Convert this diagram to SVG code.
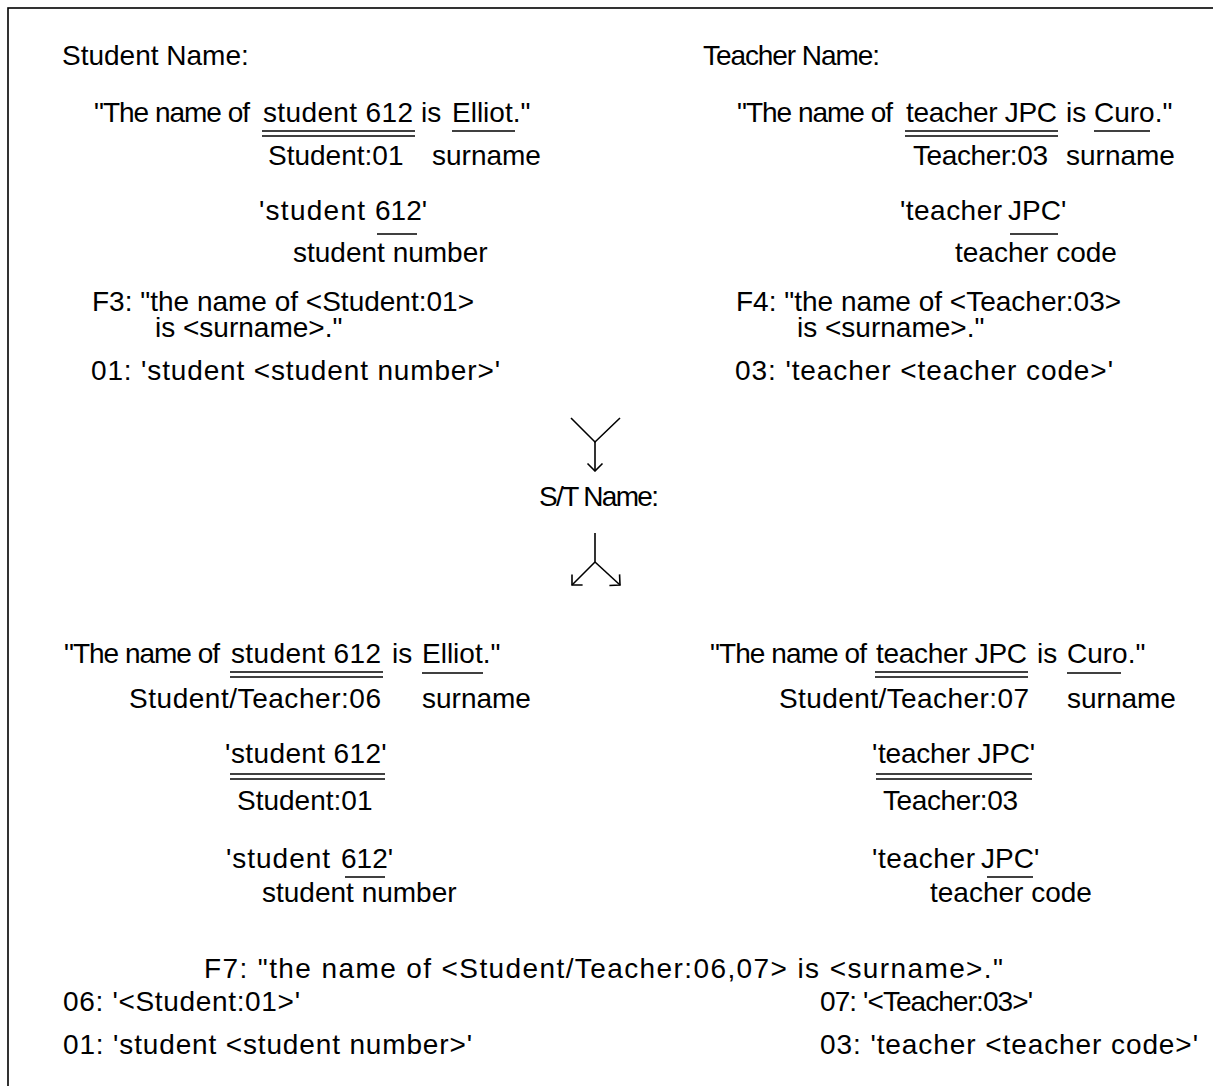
<svg xmlns="http://www.w3.org/2000/svg" width="1213" height="1086" viewBox="0 0 1213 1086">
  <style>
    text { font-family: "Liberation Sans", Arial, sans-serif; font-size: 28px; fill: #000; }
    .ul { stroke: #000; stroke-width: 1.6; fill: none; }
    .conn { stroke: #000; stroke-width: 1.6; fill: none; }
    .frame { stroke: #000; stroke-width: 1.6; fill: #fff; }
  </style>
  <defs>
    <marker id="open-head" viewBox="-9 -9 10 18" markerWidth="10" markerHeight="18" refX="0" refY="0" orient="auto" markerUnits="userSpaceOnUse">
      <path d="M-7.5,-7.5 L0,0 L-7.5,7.5" fill="none" stroke="#000" stroke-width="1.6"/>
    </marker>
  </defs>

  <rect class="frame" x="8" y="8" width="1230" height="1100"/>

  <!-- student name facts -->
  <g id="student-name">
    <text x="62" y="65">Student Name:</text>
    <text y="122"><tspan x="94" textLength="156">"The name of</tspan><tspan x="263" textLength="150">student 612</tspan><tspan x="421">is</tspan><tspan x="452">Elliot</tspan><tspan>."</tspan></text>
    <line class="ul" x1="262" y1="131" x2="415" y2="131"/>
    <line class="ul" x1="262" y1="136" x2="415" y2="136"/>
    <line class="ul" x1="452" y1="131" x2="515" y2="131"/>
    <text x="268" y="165">Student:01</text>
    <text x="432" y="165">surname</text>
    <text y="220"><tspan x="259" textLength="106">'student</tspan><tspan x="375">612</tspan><tspan>'</tspan></text>
    <line class="ul" x1="377" y1="234" x2="417" y2="234"/>
    <text x="293" y="262">student number</text>
    <text x="92" y="311">F3: "the name of &lt;Student:01&gt;</text>
    <text x="155" y="337">is &lt;surname&gt;."</text>
    <text x="91" y="380" textLength="409">01: 'student &lt;student number&gt;'</text>
  </g>

  <!-- teacher name facts -->
  <g id="teacher-name">
    <text x="703" y="65" textLength="177">Teacher Name:</text>
    <text y="122"><tspan x="737" textLength="156">"The name of</tspan><tspan x="906" textLength="151">teacher JPC</tspan><tspan x="1066">is</tspan><tspan x="1094">Curo</tspan><tspan>."</tspan></text>
    <line class="ul" x1="905" y1="131" x2="1058" y2="131"/>
    <line class="ul" x1="905" y1="136" x2="1058" y2="136"/>
    <line class="ul" x1="1094" y1="131" x2="1150" y2="131"/>
    <text x="913" y="165" textLength="135">Teacher:03</text>
    <text x="1066" y="165">surname</text>
    <text y="220"><tspan x="900" textLength="102">'teacher</tspan><tspan x="1008">JPC</tspan><tspan>'</tspan></text>
    <line class="ul" x1="1010" y1="234" x2="1058" y2="234"/>
    <text x="955" y="262">teacher code</text>
    <text x="736" y="311">F4: "the name of &lt;Teacher:03&gt;</text>
    <text x="797" y="337">is &lt;surname&gt;."</text>
    <text x="735" y="380" textLength="378">03: 'teacher &lt;teacher code&gt;'</text>
  </g>

  <!-- merged student/teacher name -->
  <g id="st-name">
    <text x="539" y="506" textLength="120">S/T Name:</text>
  </g>

  <g id="st-student">
    <text y="663"><tspan x="64" textLength="156">"The name of</tspan><tspan x="231" textLength="150">student 612</tspan><tspan x="392">is</tspan><tspan x="422">Elliot</tspan><tspan>."</tspan></text>
    <line class="ul" x1="230" y1="672" x2="383" y2="672"/>
    <line class="ul" x1="230" y1="677" x2="383" y2="677"/>
    <line class="ul" x1="422" y1="673" x2="483" y2="673"/>
    <text x="129" y="708" textLength="252">Student/Teacher:06</text>
    <text x="422" y="708">surname</text>
    <text y="763"><tspan x="225">'</tspan><tspan x="231" textLength="150">student 612</tspan><tspan>'</tspan></text>
    <line class="ul" x1="230" y1="774" x2="385" y2="774"/>
    <line class="ul" x1="230" y1="779" x2="385" y2="779"/>
    <text x="237" y="810">Student:01</text>
    <text y="868"><tspan x="226" textLength="104">'student</tspan><tspan x="341">612</tspan><tspan>'</tspan></text>
    <line class="ul" x1="345" y1="877" x2="385" y2="877"/>
    <text x="262" y="902">student number</text>
  </g>

  <g id="st-teacher">
    <text y="663"><tspan x="710" textLength="157">"The name of</tspan><tspan x="876" textLength="151">teacher JPC</tspan><tspan x="1037">is</tspan><tspan x="1067">Curo</tspan><tspan>."</tspan></text>
    <line class="ul" x1="875" y1="672" x2="1028" y2="672"/>
    <line class="ul" x1="875" y1="677" x2="1028" y2="677"/>
    <line class="ul" x1="1067" y1="673" x2="1121" y2="673"/>
    <text x="779" y="708" textLength="250">Student/Teacher:07</text>
    <text x="1067" y="708">surname</text>
    <text y="763"><tspan x="872">'</tspan><tspan x="878" textLength="152">teacher JPC</tspan><tspan>'</tspan></text>
    <line class="ul" x1="876" y1="774" x2="1032" y2="774"/>
    <line class="ul" x1="876" y1="779" x2="1032" y2="779"/>
    <text x="883" y="810" textLength="135">Teacher:03</text>
    <text y="868"><tspan x="872" textLength="103">'teacher</tspan><tspan x="981">JPC</tspan><tspan>'</tspan></text>
    <line class="ul" x1="987" y1="877" x2="1033" y2="877"/>
    <text x="930" y="902">teacher code</text>
  </g>

  <g id="st-fact-type">
    <text x="204" y="978" textLength="799">F7: "the name of &lt;Student/Teacher:06,07&gt; is &lt;surname&gt;."</text>
    <text x="63" y="1011" textLength="237">06: '&lt;Student:01&gt;'</text>
    <text x="63" y="1054" textLength="409">01: 'student &lt;student number&gt;'</text>
    <text x="820" y="1011" textLength="213">07: '&lt;Teacher:03&gt;'</text>
    <text x="820" y="1054" textLength="378">03: 'teacher &lt;teacher code&gt;'</text>
  </g>

  <!-- connectors: merge above, split below -->
  <g id="connectors">
    <path class="conn" d="M571,418 L595,442 L620,418"/>
    <path class="conn" d="M595,442 L595,471" marker-end="url(#open-head)"/>
    <path class="conn" d="M595,533 L595,562"/>
    <path class="conn" d="M595,562 L572,585" marker-end="url(#open-head)"/>
    <path class="conn" d="M595,562 L620,585" marker-end="url(#open-head)"/>
  </g>
</svg>
